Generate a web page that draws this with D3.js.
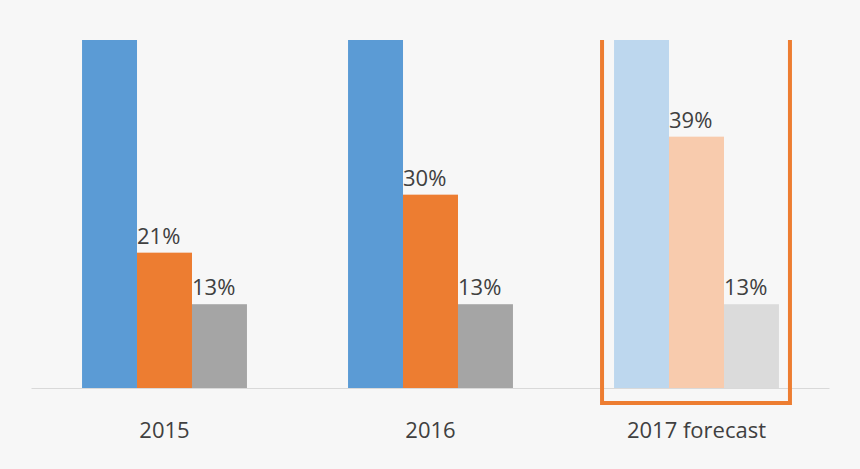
<!DOCTYPE html>
<html><head><meta charset="utf-8">
<script src="https://cdn.jsdelivr.net/npm/d3@7"></script>
<style>body{margin:0;background:#f7f7f7}svg{display:block}</style></head>
<body><svg id="c" width="860" height="469"></svg>
<script>
const categories = ["2015", "2016", "2017 forecast"];
const seriesA = [54, 54, 54];
const seriesB = [21, 30, 39];
const seriesC = [13, 13, 13];
const labelsB = ["21%", "30%", "39%"];
const labelsC = ["13%", "13%", "13%"];

const svg = d3.select("#c");
svg.append("rect").attr("width",860).attr("height",469).attr("fill","#f7f7f7");
const x = d3.scaleBand().domain(categories).range([31.5,829.5]).paddingInner(0.38).paddingOuter(0.19);
const y = d3.scaleLinear().domain([0,54]).range([388,40]);
const sub = d3.scaleBand().domain([0,1,2]).range([0,x.bandwidth()]);
const colors = [["#5b9bd5","#ed7d31","#a5a5a5"],["#5b9bd5","#ed7d31","#a5a5a5"],["#bdd7ee","#f8cbad","#dbdbdb"]];
const series = [seriesA, seriesB, seriesC];
categories.forEach((c,i)=>{
  series.forEach((s,j)=>{
    svg.append("rect").attr("x",x(c)+sub(j)).attr("width",sub.bandwidth())
      .attr("y",y(s[i])).attr("height",y(0)-y(s[i])).attr("fill",colors[i][j]);
  });
  [[1,labelsB],[2,labelsC]].forEach(([j,l])=>{
    svg.append("text").attr("x",x(c)+sub(j)).attr("y",y(series[j][i])-9)
      .attr("font-family","Open Sans, sans-serif").attr("font-size",22).attr("fill","#404040").text(l[i]);
  });
  svg.append("text").attr("x",x(c)+x.bandwidth()/2).attr("y",438).attr("text-anchor","middle")
    .attr("font-family","Open Sans, sans-serif").attr("font-size",22).attr("fill","#404040").text(c);
});
svg.append("line").attr("x1",31.5).attr("x2",829.5).attr("y1",388.5).attr("y2",388.5).attr("stroke","#d9d9d9");
const x3 = x(categories[2]);
svg.append("path").attr("d",`M${x3-12},40V403H${x3+x.bandwidth()+11}V40`)
  .attr("fill","none").attr("stroke","#ed7d31").attr("stroke-width",4);
</script></body></html>
